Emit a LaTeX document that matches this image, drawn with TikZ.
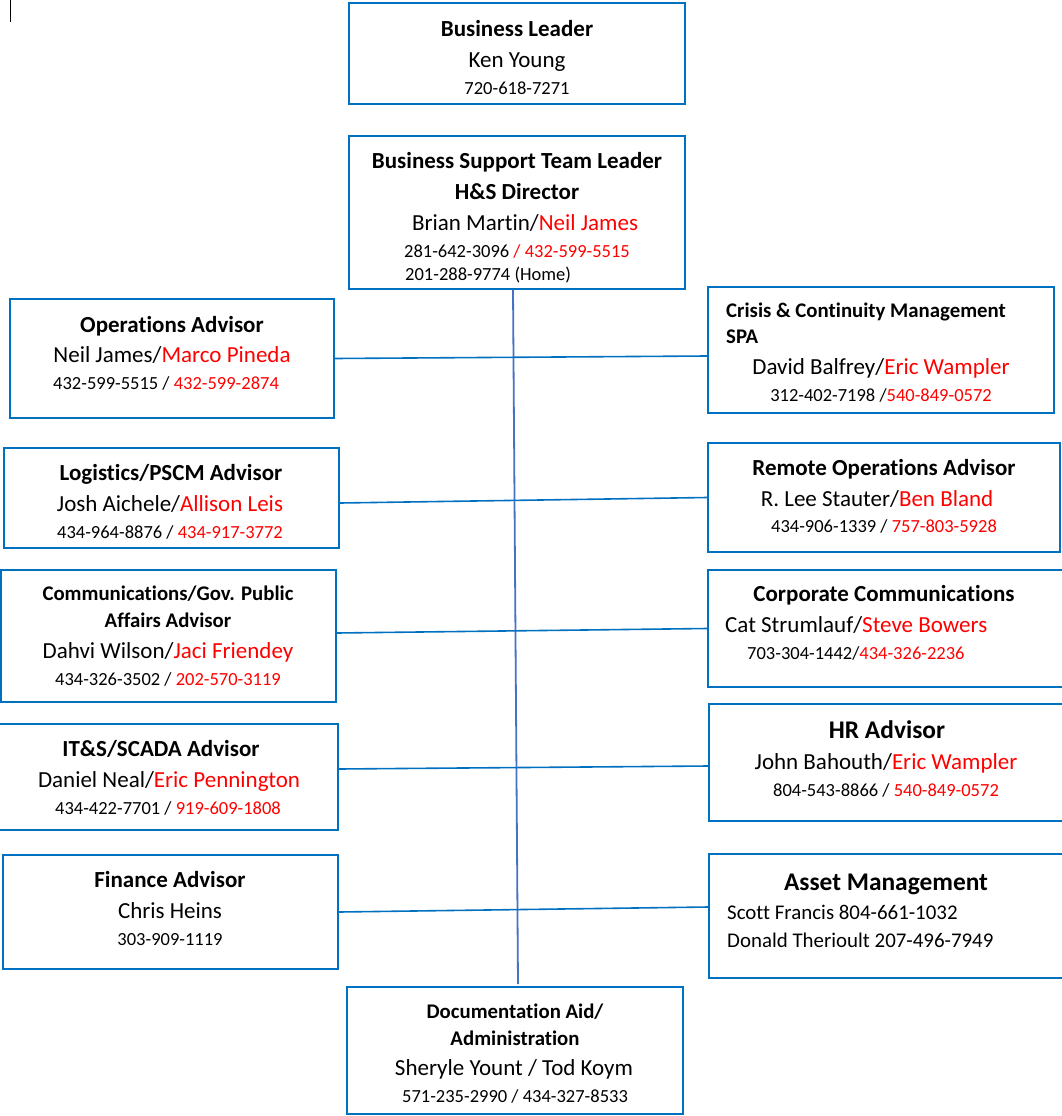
\documentclass[tikz,border=0pt]{standalone}
\usepackage{fontspec}
\setmainfont{Carlito}[Ligatures={NoCommon}]
\definecolor{boxblue}{HTML}{0070C0}
\definecolor{vblue}{HTML}{4472C4}
\definecolor{myred}{HTML}{FF0000}
\newcommand{\redtxt}[1]{\textcolor{myred}{#1}}
\begin{document}
\begin{tikzpicture}[x=1pt,y=-1pt,
  box/.style={draw=boxblue, line width=1.8pt, rectangle, inner sep=0pt},
  conn/.style={draw=boxblue, line width=1.6pt},
  vconn/.style={draw=vblue, line width=1.8pt},
  txt/.style={anchor=base, inner sep=0pt, yshift=-1.5pt},
  ttl/.style={txt, font=\fontsize{23}{27}\selectfont\bfseries},
  ttls/.style={txt, font=\fontsize{20.8}{25}\selectfont\bfseries},
  ttlb/.style={txt, font=\fontsize{25.4}{30}\selectfont\bfseries},
  nm/.style={txt, font=\fontsize{23}{27}\selectfont},
  nms/.style={txt, font=\fontsize{20.9}{25}\selectfont},
  ph/.style={txt, font=\fontsize{18.5}{22}\selectfont}
]
\useasboundingbox (0,0) rectangle (1062,1116);
\draw[line width=1pt] (10,0) -- (10,22);

% boxes
\node[box, minimum width=336pt, minimum height=101pt] (lead) at (517,53.5) {};
\node[box, minimum width=336pt, minimum height=153pt] (bst) at (517,212.5) {};
\node[box, minimum width=324pt, minimum height=119pt] (ops) at (172,358.5) {};
\node[box, minimum width=346pt, minimum height=126pt] (crisis) at (881,350) {};
\node[box, minimum width=335pt, minimum height=100pt] (log) at (171.5,498) {};
\node[box, minimum width=352pt, minimum height=109pt] (remote) at (884,497.5) {};
\node[box, minimum width=335pt, minimum height=132pt] (comms) at (168.5,636) {};
\node[box, minimum width=358pt, minimum height=117pt] (corp) at (887,628.5) {};
\node[box, minimum width=339pt, minimum height=106pt] (it) at (168.5,777) {};
\node[box, minimum width=357pt, minimum height=117pt] (hr) at (887.5,762.5) {};
\node[box, minimum width=335pt, minimum height=114pt] (fin) at (170.5,912) {};
\node[box, minimum width=357pt, minimum height=124pt] (asset) at (887.5,916) {};
\node[box, minimum width=336pt, minimum height=127pt] (doc) at (515,1050.5) {};

% connectors
\draw[vconn] ([xshift=-4pt]bst.south) -- ([xshift=3pt,yshift=2pt]doc.north);
\draw[conn] (ops.east) -- ([yshift=-6pt]crisis.west);
\draw[conn] ([yshift=-5pt]log.east) -- (remote.west);
\draw[conn] ([yshift=3pt]comms.east) -- (corp.west);
\draw[conn] ([yshift=8pt]it.east) -- ([yshift=-3.5pt]hr.west);
\draw[conn] (fin.east) -- ([yshift=9pt]asset.west);

% texts
\node[ttl] (lead1) at (517,35) {Business Leader};
\node[nm] (lead2) at (517,66) {Ken Young};
\node[ph] (lead3) at (517,93) {720-618-7271};

\node[ttl] (bst1) at (517,167) {Business Support Team Leader};
\node[ttl] (bst2) at (517,198) {H\&S Director};
\node[nm] (bst3) at (525,229) {Brian Martin/\redtxt{Neil James}};
\node[ph] (bst4) at (517,256) {281-642-3096 \redtxt{/ 432-599-5515}};
\node[ph, anchor=base west] (bst5) at (405,279) {201-288-9774 (Home)};

\node[ttl] (ops1) at (172,331) {Operations Advisor};
\node[nm] (ops2) at (172,361) {Neil James/\redtxt{Marco Pineda}};
\node[ph, anchor=base west] (ops3) at (53,388) {432-599-5515 / \redtxt{432-599-2874}};

\node[ttls, anchor=base west] (cr1) at (726,316) {Crisis \& Continuity Management};
\node[ttls, anchor=base west] (cr2) at (726,342) {SPA};
\node[nm] (cr3) at (881,373) {David Balfrey/\redtxt{Eric Wampler}};
\node[ph] (cr4) at (881,400) {312-402-7198 /\redtxt{540-849-0572}};

\node[ttl] (log1) at (171,479) {Logistics/PSCM Advisor};
\node[nm] (log2) at (170,510) {Josh Aichele/\redtxt{Allison Leis}};
\node[ph] (log3) at (170,537) {434-964-8876 / \redtxt{434-917-3772}};

\node[ttl] (rem1) at (884,474) {Remote Operations Advisor};
\node[nm] (rem2) at (877,505) {R. Lee Stauter/\redtxt{Ben Bland}};
\node[ph] (rem3) at (884,531) {434-906-1339 / \redtxt{757-803-5928}};

\node[ttls] (com1) at (168,599) {Communications/Gov. Public};
\node[ttls] (com2) at (168,626) {Affairs Advisor};
\node[nm] (com3) at (168,657) {Dahvi Wilson/\redtxt{Jaci Friendey}};
\node[ph] (com4) at (168,684) {434-326-3502 / \redtxt{202-570-3119}};

\node[ttl] (corp1) at (884,600) {Corporate Communications};
\node[nm, anchor=base west] (corp2) at (725,631) {Cat Strumlauf/\redtxt{Steve Bowers}};
\node[ph, anchor=base west] (corp3) at (747,658) {703-304-1442/\redtxt{434-326-2236}};

\node[ttl] (it1) at (161,755) {IT\&S/SCADA Advisor};
\node[nm] (it2) at (169,786) {Daniel Neal/\redtxt{Eric Pennington}};
\node[ph] (it3) at (168,813) {434-422-7701 / \redtxt{919-609-1808}};

\node[ttlb] (hr1) at (887,737) {HR Advisor};
\node[nm] (hr2) at (886,768) {John Bahouth/\redtxt{Eric Wampler}};
\node[ph] (hr3) at (886,795) {804-543-8866 / \redtxt{540-849-0572}};

\node[ttl] (fin1) at (170,886) {Finance Advisor};
\node[nm] (fin2) at (170,917) {Chris Heins};
\node[ph] (fin3) at (170,944) {303-909-1119};

\node[ttlb] (as1) at (886,889) {Asset Management};
\node[nms, anchor=base west] (as2) at (727,918) {Scott Francis 804-661-1032};
\node[nms, anchor=base west] (as3) at (727,946) {Donald Therioult 207-496-7949};

\node[ttls] (doc1) at (515,1017) {Documentation Aid/};
\node[ttls] (doc2) at (515,1044) {Administration};
\node[nm] (doc3) at (514,1074) {Sheryle Yount / Tod Koym};
\node[ph] (doc4) at (515,1101) {571-235-2990 / 434-327-8533};
\end{tikzpicture}
\end{document}
